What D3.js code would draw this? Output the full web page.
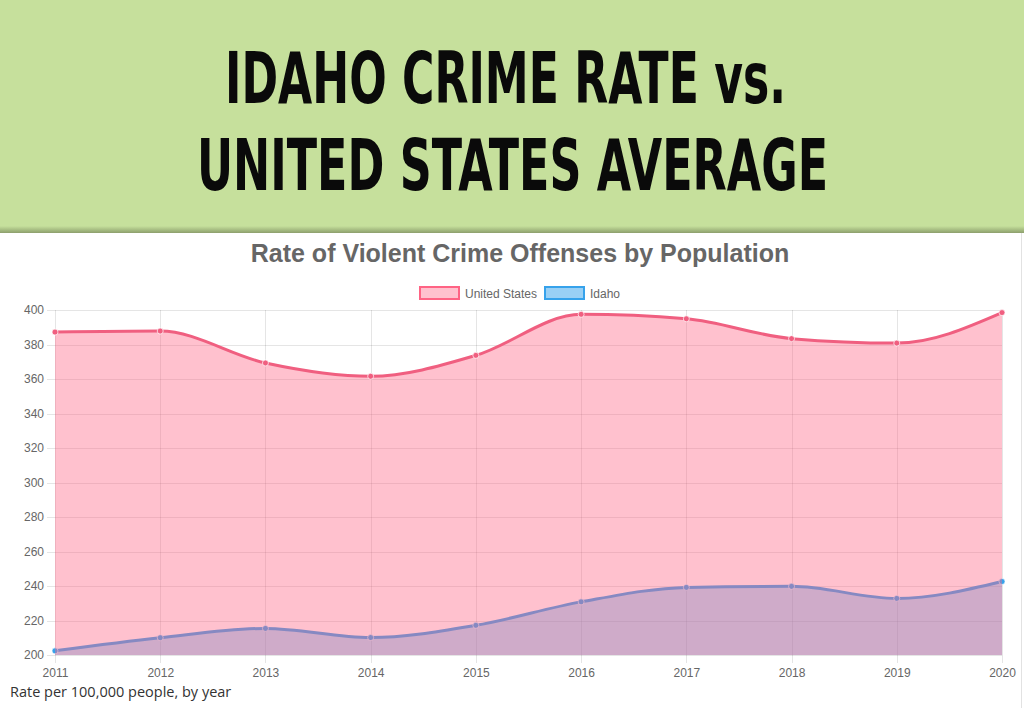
<!DOCTYPE html>
<html>
<head>
<meta charset="utf-8">
<script src="https://cdn.jsdelivr.net/npm/d3@7"></script>
<style>
  html, body { margin: 0; padding: 0; background: #fff; }
  svg { display: block; }
</style>
</head>
<body>
<svg id="chart" width="1024" height="708"></svg>
<script>
const years = ["2011","2012","2013","2014","2015","2016","2017","2018","2019","2020"];
const usValues = [387.2, 387.8, 369.3, 361.6, 373.7, 397.5, 394.9, 383.4, 380.8, 398.5];
const idahoValues = [202.4, 210.0, 215.4, 210.1, 217.2, 230.8, 239.2, 239.8, 232.8, 242.6];
const yTicks = [200, 220, 240, 260, 280, 300, 320, 340, 360, 380, 400];
const seriesNames = ["United States", "Idaho"];
const headerLines = ["IDAHO CRIME RATE vs.", "UNITED STATES AVERAGE"];
const chartTitle = "Rate of Violent Crime Offenses by Population";
const footNote = "Rate per 100,000 people, by year";

const svg = d3.select("#chart");

// header band
const defs = svg.append("defs");
const grad = defs.append("linearGradient").attr("id", "shadow").attr("x1", 0).attr("y1", 0).attr("x2", 0).attr("y2", 1);
grad.append("stop").attr("offset", "0%").attr("stop-color", "#c6e09c");
grad.append("stop").attr("offset", "60%").attr("stop-color", "#a3b97f");
grad.append("stop").attr("offset", "100%").attr("stop-color", "#8d9f6d");
svg.append("rect").attr("x", 0).attr("y", 0).attr("width", 1024).attr("height", 226).attr("fill", "#c6e09c");
svg.append("rect").attr("x", 0).attr("y", 226).attr("width", 1024).attr("height", 7).attr("fill", "url(#shadow)");

const headerSpecs = [
  { x: 225, y: 103, w: 561, fs: 49, sy: 1.45 },
  { x: 197, y: 190, w: 631, fs: 49.5, sy: 1.43 }
];
headerLines.forEach((t, i) => {
  const s = headerSpecs[i];
  svg.append("text")
    .attr("transform", `translate(${s.x},${s.y}) scale(1,${s.sy})`)
    .attr("x", 0)
    .attr("y", 0)
    .attr("textLength", s.w)
    .attr("lengthAdjust", "spacingAndGlyphs")
    .attr("font-family", "'DejaVu Sans Condensed', 'Liberation Sans Narrow', sans-serif")
    .attr("font-weight", "bold")
    .attr("font-size", s.fs)
    .attr("fill", "#0a0a0a")
    .text(t);
});

// right edge line
svg.append("line").attr("x1", 1021.5).attr("x2", 1021.5).attr("y1", 233).attr("y2", 708)
  .attr("stroke", "#e2e2e2").attr("stroke-width", 1);

// chart title
svg.append("text")
  .attr("x", 520).attr("y", 262)
  .attr("text-anchor", "middle")
  .attr("font-family", "'Liberation Sans', Arial, Helvetica, sans-serif")
  .attr("font-weight", "bold")
  .attr("font-size", 25)
  .attr("fill", "#666")
  .text(chartTitle);

// legend
const legendColors = [
  { fill: "rgba(255,99,132,0.4)", stroke: "rgb(255,99,132)" },
  { fill: "rgba(54,162,235,0.5)", stroke: "rgb(54,162,235)" }
];
const legendX = [420, 545];
seriesNames.forEach((n, i) => {
  const g = svg.append("g").attr("transform", `translate(${legendX[i]},287)`);
  g.append("rect").attr("x", 0).attr("y", 0).attr("width", 39).attr("height", 12)
    .attr("fill", legendColors[i].fill).attr("stroke", legendColors[i].stroke).attr("stroke-width", 2);
  g.append("text").attr("x", 45).attr("y", 10.5)
    .attr("font-family", "'Liberation Sans', Arial, Helvetica, sans-serif")
    .attr("font-size", 12).attr("fill", "#666").text(n);
});

// scales
const x = d3.scalePoint().domain(years).range([55, 1002]);
const y = d3.scaleLinear().domain([200, 400]).range([655, 310]);

// grid
const gridColor = "rgba(0,0,0,0.1)";
svg.append("g").selectAll("line").data(yTicks).join("line")
  .attr("x1", 47).attr("x2", 1002)
  .attr("y1", d => Math.round(y(d)) + 0.5).attr("y2", d => Math.round(y(d)) + 0.5)
  .attr("stroke", gridColor);
svg.append("g").selectAll("line").data(years).join("line")
  .attr("x1", d => Math.round(x(d)) + 0.5).attr("x2", d => Math.round(x(d)) + 0.5)
  .attr("y1", 310).attr("y2", 663)
  .attr("stroke", gridColor);

// axes labels via d3 axes
const yAxis = svg.append("g").attr("transform", "translate(47,0)")
  .call(d3.axisLeft(y).tickValues(yTicks).tickSize(0).tickPadding(3));
yAxis.select(".domain").remove();
yAxis.selectAll("text").attr("font-family", "'Liberation Sans', Arial, Helvetica, sans-serif")
  .attr("font-size", 12).attr("fill", "#666");

const xAxis = svg.append("g").attr("transform", "translate(0,663)")
  .call(d3.axisBottom(x).tickSize(0).tickPadding(5));
xAxis.select(".domain").remove();
xAxis.selectAll("text").attr("font-family", "'Liberation Sans', Arial, Helvetica, sans-serif")
  .attr("font-size", 12).attr("fill", "#666");

// series
const curve = d3.curveMonotoneX;
const idahoData = years.map((yr, i) => ({ yr, v: idahoValues[i] }));
const usData = years.map((yr, i) => ({ yr, v: usValues[i] }));
const area = d3.area().x(d => x(d.yr)).y0(y(200)).y1(d => y(d.v)).curve(curve);
const line = d3.line().x(d => x(d.yr)).y(d => y(d.v)).curve(curve);

// Idaho (drawn first, underneath)
svg.append("path").attr("d", area(idahoData)).attr("fill", "rgba(54,162,235,0.4)");
svg.append("path").attr("d", line(idahoData)).attr("fill", "none")
  .attr("stroke", "rgb(54,162,235)").attr("stroke-width", 3);
svg.append("g").selectAll("circle").data(idahoData).join("circle")
  .attr("cx", d => x(d.yr)).attr("cy", d => y(d.v)).attr("r", 3)
  .attr("fill", "rgb(54,162,235)").attr("stroke", "rgba(255,255,255,0.6)").attr("stroke-width", 1);

// US (on top)
svg.append("path").attr("d", area(usData)).attr("fill", "rgba(255,99,132,0.4)");
svg.append("path").attr("d", line(usData)).attr("fill", "none")
  .attr("stroke", "rgb(240,95,128)").attr("stroke-width", 3);
svg.append("g").selectAll("circle").data(usData).join("circle")
  .attr("cx", d => x(d.yr)).attr("cy", d => y(d.v)).attr("r", 3)
  .attr("fill", "rgb(240,95,128)").attr("stroke", "rgba(255,255,255,0.7)").attr("stroke-width", 1);

// footnote
svg.append("text")
  .attr("x", 10).attr("y", 697)
  .attr("font-family", "'Open Sans', 'Noto Sans', sans-serif")
  .attr("font-size", 14.5).attr("fill", "#333")
  .text(footNote);
</script>
</body>
</html>
